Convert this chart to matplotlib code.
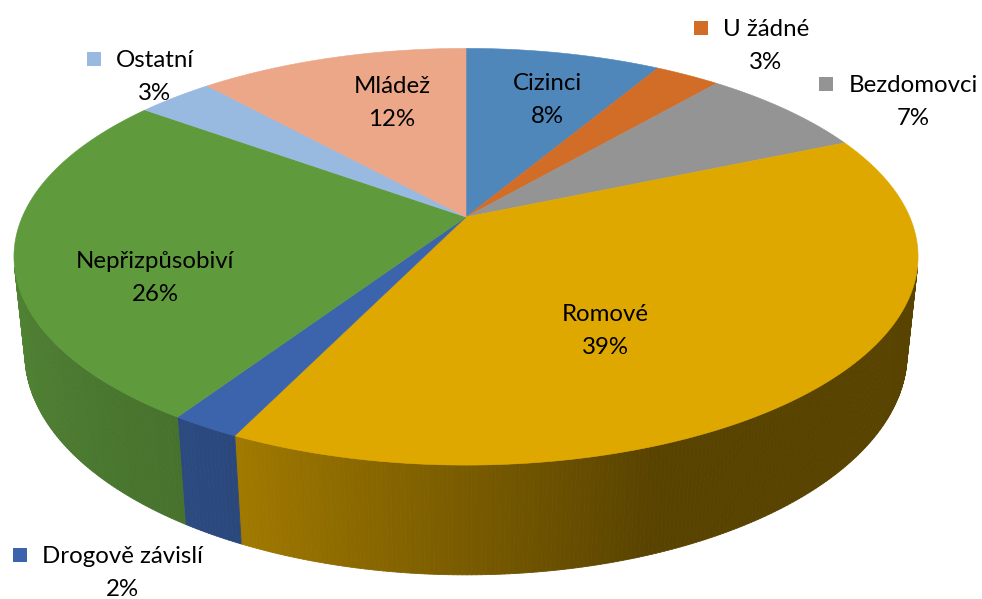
import numpy as np
import matplotlib.pyplot as plt
from matplotlib.patches import Polygon, Rectangle
from matplotlib.collections import PolyCollection
import matplotlib.colors as mcolors

# data (slices clockwise from 12 o'clock), shares in %
names = ["Cizinci", "U žádné", "Bezdomovci", "Romové",
         "Drogově závislí", "Nepřizpůsobiví", "Ostatní", "Mládež"]
shares = [8.4, 2.8, 7.3, 38.6, 2.1, 25.9, 3.3, 11.6]
colors = ["#4f87bb", "#d26d28", "#949494", "#dfa800",
          "#3b64ad", "#5f9a3d", "#98b9e0", "#eca688"]

# label layout in pixels: centre x / centre y of the name line
label_x = [547, 766, 913, 605, 122, 155, 155, 392]
label_y = [82, 28, 84, 313, 555, 260, 59, 85]

W, H = 982, 599

# simple perspective camera for a tilted disc
elev = np.radians(26.9)
ce, se = np.cos(elev), np.sin(elev)
D = 4.676          # camera distance (disc radius = 1)
F = 2075           # focal length in pixels
cx, cy = 466, 217  # screen position of the pie centre
depth_h = 0.246    # thickness of the pie


def proj(x, y, z):
    d = D + y * ce - z * se
    sx = F * x / d
    sy = F * (y * se + z * ce) / d
    return cx + sx, cy - sy


def rim(theta, z=0.0):
    t = np.radians(theta)
    return proj(np.sin(t), np.cos(t), z)


def side_shade(theta):
    return np.interp(theta, [100, 160, 205, 260], [0.40, 0.40, 0.72, 0.86])


fig = plt.figure(figsize=(W / 100, H / 100), dpi=100)
ax = fig.add_axes([0, 0, 1, 1])
ax.set_xlim(0, W)
ax.set_ylim(H, 0)
ax.axis("off")

bounds = np.concatenate([[0], np.cumsum(shares)]) * 360 / sum(shares)

# visible part of the outer wall (normal faces the camera)
vis_lo = np.degrees(np.arccos(-1 / (D * ce)))
vis_hi = 360 - vis_lo

for i, col in enumerate(colors):
    t0, t1 = bounds[i], bounds[i + 1]
    a, b = max(t0, vis_lo), min(t1, vis_hi)
    if b <= a:
        continue
    steps = np.linspace(a, b, max(int((b - a) * 2), 2))
    base = np.array(mcolors.to_rgb(col))
    quads, fcs = [], []
    for s0, s1 in zip(steps[:-1], steps[1:]):
        quads.append([rim(s0), rim(s1), rim(s1, -depth_h), rim(s0, -depth_h)])
        fcs.append(np.clip(base * side_shade((s0 + s1) / 2), 0, 1))
    pc = PolyCollection(quads, facecolors=fcs, edgecolors=fcs, linewidths=0.6)
    ax.add_collection(pc)

for i, col in enumerate(colors):
    t0, t1 = bounds[i], bounds[i + 1]
    arc = np.linspace(t0, t1, max(int((t1 - t0) * 2), 3))
    pts = [proj(0, 0, 0)] + [rim(t) for t in arc]
    ax.add_patch(Polygon(pts, closed=True, facecolor=col, edgecolor=col, linewidth=0.4))

# data labels with legend keys
font = dict(family=["Lato", "DejaVu Sans"], fontsize=17.3, color="#000000")
fig.canvas.draw()
renderer = fig.canvas.get_renderer()
for i in range(len(names)):
    t = ax.text(label_x[i], label_y[i] + 8, names[i], ha="center", va="baseline", **font)
    ax.text(label_x[i], label_y[i] + 41, f"{shares[i]:.0f}%", ha="center", va="baseline", **font)
    bb = t.get_window_extent(renderer)
    left = bb.x0
    ax.add_patch(Rectangle((left - 29, label_y[i] - 7), 14, 14,
                           facecolor=colors[i], edgecolor="none"))

fig.savefig("out.png", dpi=100)
